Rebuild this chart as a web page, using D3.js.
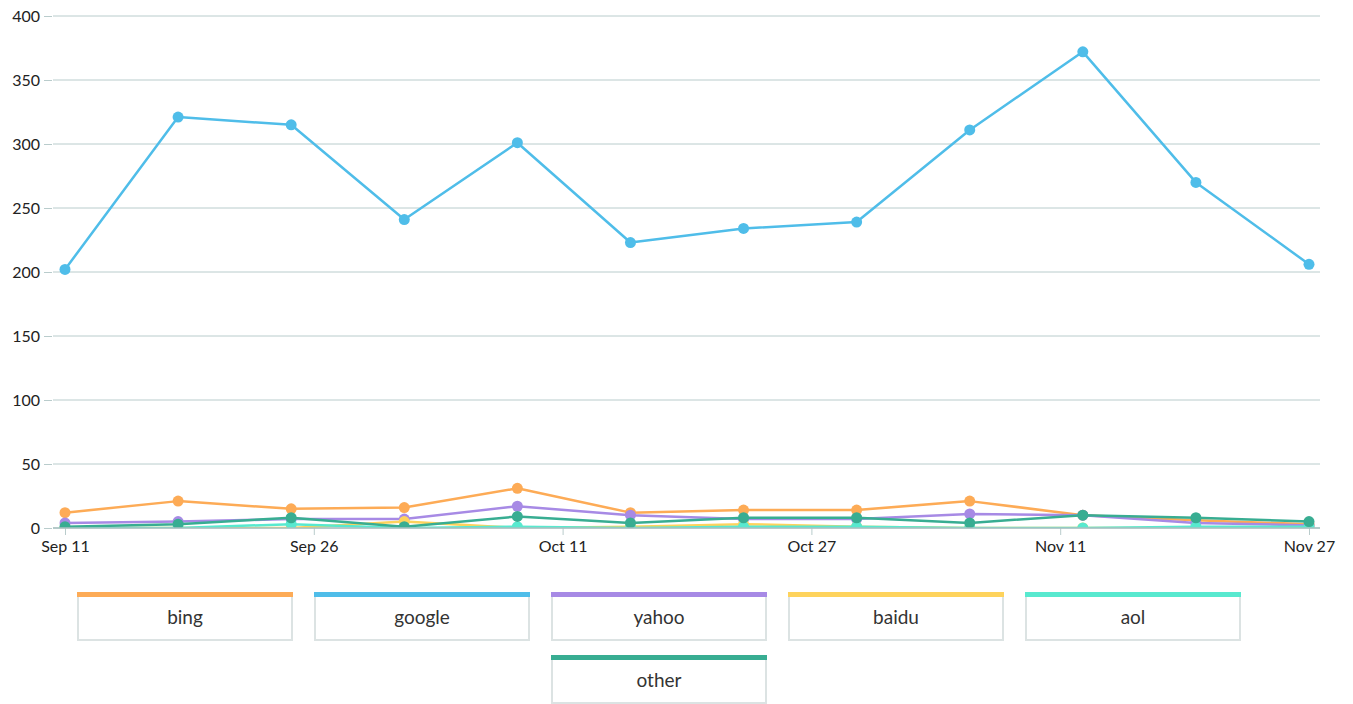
<!DOCTYPE html>
<html>
<head>
<meta charset="utf-8">
<script src="https://cdn.jsdelivr.net/npm/d3@7/dist/d3.min.js"></script>
<style>
  html, body { margin: 0; padding: 0; background: #fff; }
  body { width: 1353px; height: 704px; overflow: hidden; font-family: Lato, "Open Sans", sans-serif; }
  svg text { font-family: Lato, "Open Sans", sans-serif; }
</style>
</head>
<body>
<svg id="chart" width="1353" height="704"></svg>
<script>
// ---- data ----
const dates = ["2017-09-11","2017-09-18","2017-09-25","2017-10-02","2017-10-09","2017-10-16",
               "2017-10-23","2017-10-30","2017-11-06","2017-11-13","2017-11-20","2017-11-27"];
const seriesNames = ["bing", "google", "yahoo", "baidu", "aol", "other"];
const bing   = [12, 21, 15, 16, 31, 12, 14, 14, 21, 10, 6, 3];
const google = [202, 321, 315, 241, 301, 223, 234, 239, 311, 372, 270, 206];
const yahoo  = [4, 5, 7, 7, 17, 10, 7, 7, 11, 10, 4, 2];
const baidu  = [0, 0, 0, 5, 0, 1, 3, 1, 0, 0, 0, 0];
const aol    = [0, 0, 3, 0, 1, 0, 1, 1, 0, 0, 1, 1];
const other  = [1, 3, 8, 1, 9, 4, 8, 8, 4, 10, 8, 5];
const xTickLabels = ["Sep 11", "Sep 26", "Oct 11", "Oct 27", "Nov 11", "Nov 27"];
const yTickValues = [0, 50, 100, 150, 200, 250, 300, 350, 400];

const colors = {
  bing: "#fdab56", google: "#4fbde9", yahoo: "#a78ae5",
  baidu: "#fed35c", aol: "#58e9cf", other: "#38ad92"
};
const valuesByName = { bing, google, yahoo, baidu, aol, other };

// ---- layout ----
const svg = d3.select("#chart");
const parse = d3.timeParse("%Y-%m-%d");
const dateObjs = dates.map(parse);

const x = d3.scaleTime()
  .domain(d3.extent(dateObjs))
  .range([65, 1309]);
const y = d3.scaleLinear()
  .domain([0, 400])
  .range([528, 16]);

const gridLeft = 53, gridRight = 1320;

svg.append("defs").append("clipPath").attr("id", "plotClip")
  .append("rect")
  .attr("x", 0).attr("y", 0)
  .attr("width", 1353).attr("height", y(0));

// grid lines
svg.append("g")
  .selectAll("line")
  .data(yTickValues)
  .join("line")
  .attr("x1", gridLeft).attr("x2", gridRight)
  .attr("y1", d => y(d)).attr("y2", d => y(d))
  .attr("stroke", "#b9cccc").attr("stroke-width", 1);

// y axis
const yAxis = svg.append("g")
  .attr("transform", `translate(${gridLeft - 1},0)`)
  .call(d3.axisLeft(y).tickValues(yTickValues).tickSize(8).tickPadding(4).tickFormat(d3.format("d")));
yAxis.select(".domain").remove();
yAxis.selectAll(".tick line").attr("stroke", "#b9cccc");
yAxis.selectAll(".tick text").attr("font-size", 16).attr("fill", "#222");

// x axis (ticks evenly spaced across the domain)
const [d0, d1] = x.domain();
const xTickDates = xTickLabels.map((_, i) => new Date(+d0 + i * (d1 - d0) / (xTickLabels.length - 1)));
const xAxis = svg.append("g")
  .attr("transform", `translate(0,${y(0)})`)
  .call(d3.axisBottom(x).tickValues(xTickDates).tickSize(7).tickPadding(6)
    .tickFormat((d, i) => xTickLabels[i]));
xAxis.select(".domain").remove();
xAxis.selectAll(".tick line").attr("stroke", "#b9cccc");
xAxis.selectAll(".tick text").attr("font-size", 16).attr("fill", "#222");

// lines and dots
const line = d3.line()
  .x((d, i) => x(dateObjs[i]))
  .y(d => y(d));

const plot = svg.append("g").attr("clip-path", "url(#plotClip)");
seriesNames.forEach(name => {
  const vals = valuesByName[name];
  const g = plot.append("g");
  g.append("path")
    .datum(vals)
    .attr("d", line)
    .attr("fill", "none")
    .attr("stroke", colors[name])
    .attr("stroke-width", 2.5)
    .attr("stroke-linejoin", "round");
  g.selectAll("circle")
    .data(vals)
    .join("circle")
    .attr("cx", (d, i) => x(dateObjs[i]))
    .attr("cy", d => y(d))
    .attr("r", 5.5)
    .attr("fill", colors[name]);
});

svg.append("line")
  .attr("x1", gridLeft).attr("x2", gridRight)
  .attr("y1", y(0)).attr("y2", y(0))
  .attr("stroke", "#a9c0c0").attr("stroke-width", 1.5);

// legend
const legendX0 = 77, legendY0 = 592, boxW = 216, boxH = 49, stepX = 237, stepY = 63, perRow = 5;
const positions = seriesNames.map((name, i) => {
  if (i < perRow) return { col: i, row: 0 };
  const remaining = seriesNames.length - perRow;
  const startCol = (perRow - remaining) / 2;
  return { col: startCol + (i - perRow), row: 1 };
});
const legend = svg.append("g")
  .selectAll("g")
  .data(seriesNames)
  .join("g")
  .attr("transform", (d, i) => `translate(${legendX0 + positions[i].col * stepX},${legendY0 + positions[i].row * stepY})`);
legend.append("rect")
  .attr("x", 1).attr("y", 1)
  .attr("width", boxW - 2).attr("height", boxH - 2)
  .attr("fill", "#fff")
  .attr("stroke", "#dce3e3").attr("stroke-width", 2);
legend.append("rect")
  .attr("x", 0).attr("y", 0)
  .attr("width", boxW).attr("height", 5)
  .attr("fill", d => colors[d]);
legend.append("text")
  .attr("x", boxW / 2).attr("y", 27)
  .attr("text-anchor", "middle")
  .attr("dominant-baseline", "middle")
  .attr("font-size", 19)
  .attr("fill", "#333")
  .text(d => d);
</script>
</body>
</html>
